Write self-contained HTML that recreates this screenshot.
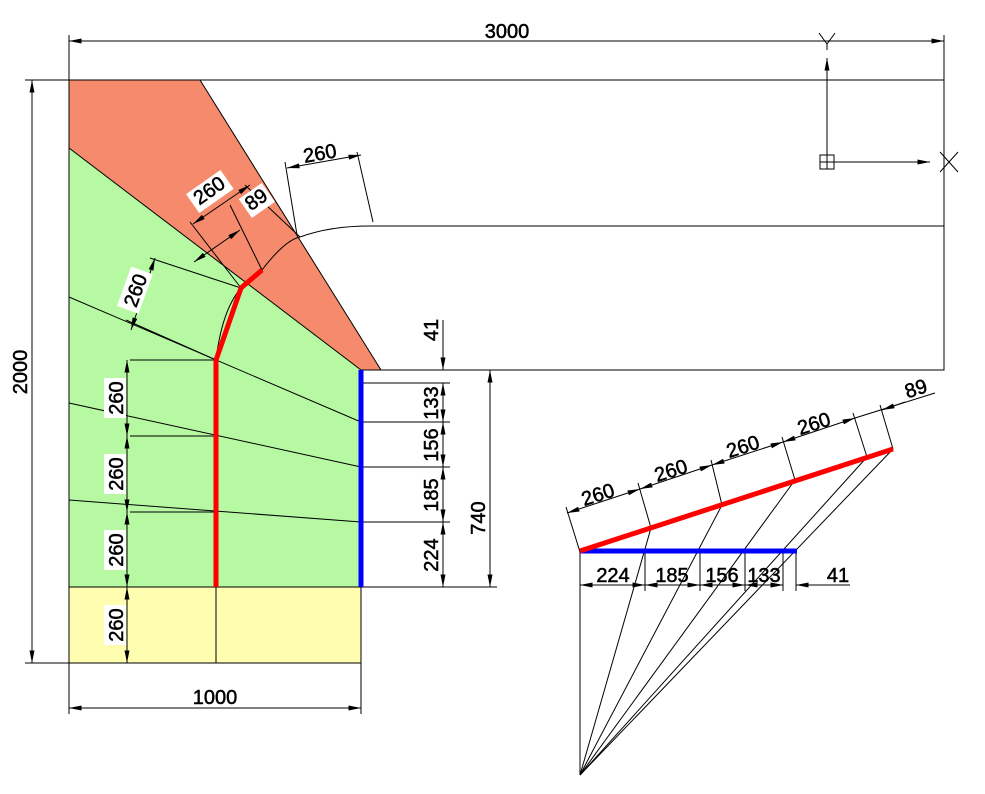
<!DOCTYPE html>
<html><head><meta charset="utf-8"><style>
html,body{margin:0;padding:0;background:#fff}
svg{display:block}
text{font-family:"Liberation Sans",sans-serif;font-size:20px;fill:#000;stroke:#000;stroke-width:0.5}
</style></head><body>
<svg width="985" height="794" viewBox="0 0 985 794" xmlns="http://www.w3.org/2000/svg">
<defs>
<marker id="a" viewBox="0 0 10 4" refX="10" refY="2" markerWidth="14" markerHeight="5" orient="auto-start-reverse" markerUnits="userSpaceOnUse"><path d="M0,0L10,2L0,4z" fill="#000"/></marker>
</defs>
<polygon points="69,80 200,80 381,370 361,370 69,148" fill="#f58b6c"/>
<polygon points="69,148 361,370 361,587 69,587" fill="#b6f9a2"/>
<rect x="69" y="587" width="292" height="76" fill="#fefdb0"/>
<g stroke="#000" stroke-width="1" fill="none">
<polyline points="69,80 944,80 944,370 361,370"/>
<polyline points="69,80 69,663 361,663 361,370"/>
<line x1="69" y1="587" x2="361" y2="587"/>
<line x1="200" y1="80" x2="381" y2="370"/>
<line x1="69" y1="148" x2="361" y2="370"/>
<line x1="216" y1="587" x2="216" y2="663"/>
<line x1="370" y1="226" x2="944" y2="226"/>
<path d="M300,237 Q330,226 370,226"/>
<path d="M262,270 Q285,240 300,237"/>
<path d="M216,360 Q222,310 241,288"/>
<line x1="69" y1="297" x2="361" y2="422"/>
<line x1="69" y1="403" x2="361" y2="467"/>
<line x1="69" y1="500" x2="361" y2="522"/>
<line x1="126" y1="320" x2="216" y2="360"/>
<line x1="150" y1="258" x2="241" y2="288"/>
<line x1="130" y1="360" x2="216" y2="360"/>
<line x1="130" y1="436" x2="216" y2="436"/>
<line x1="130" y1="512" x2="216" y2="512"/>
<line x1="69" y1="35" x2="69" y2="80"/><line x1="944" y1="35" x2="944" y2="80"/>
<line x1="69" y1="41" x2="944" y2="41" marker-start="url(#a)" marker-end="url(#a)"/>
<line x1="25" y1="80" x2="69" y2="80"/><line x1="25" y1="663" x2="69" y2="663"/>
<line x1="32" y1="80" x2="32" y2="663" marker-start="url(#a)" marker-end="url(#a)"/>
<line x1="69" y1="663" x2="69" y2="714"/><line x1="361" y1="663" x2="361" y2="714"/>
<line x1="69" y1="708" x2="361" y2="708" marker-start="url(#a)" marker-end="url(#a)"/>
<line x1="127" y1="360" x2="127" y2="436" marker-start="url(#a)" marker-end="url(#a)"/>
<line x1="127" y1="436" x2="127" y2="512" marker-start="url(#a)" marker-end="url(#a)"/>
<line x1="127" y1="512" x2="127" y2="587" marker-start="url(#a)" marker-end="url(#a)"/>
<line x1="127" y1="587" x2="127" y2="663" marker-start="url(#a)" marker-end="url(#a)"/>
<line x1="155" y1="258" x2="131" y2="330" marker-start="url(#a)" marker-end="url(#a)"/>
<line x1="361" y1="383" x2="450" y2="383"/>
<line x1="361" y1="422" x2="450" y2="422"/>
<line x1="361" y1="467" x2="450" y2="467"/>
<line x1="361" y1="522" x2="450" y2="522"/>
<line x1="361" y1="587" x2="497" y2="587"/>
<line x1="361" y1="370" x2="497" y2="370"/>
<line x1="443" y1="320" x2="443" y2="370" marker-end="url(#a)"/>
<line x1="443" y1="383" x2="443" y2="587"/>
<line x1="443" y1="383" x2="443" y2="422" marker-start="url(#a)" marker-end="url(#a)"/>
<line x1="443" y1="422" x2="443" y2="467" marker-start="url(#a)" marker-end="url(#a)"/>
<line x1="443" y1="467" x2="443" y2="522" marker-start="url(#a)" marker-end="url(#a)"/>
<line x1="443" y1="522" x2="443" y2="587" marker-start="url(#a)" marker-end="url(#a)"/>
<line x1="490" y1="370" x2="490" y2="587" marker-start="url(#a)" marker-end="url(#a)"/>
<line x1="190" y1="222" x2="241" y2="288"/>
<line x1="230" y1="205" x2="262" y2="270"/>
<line x1="245" y1="185" x2="300" y2="237"/>
<line x1="193" y1="224" x2="250" y2="185" marker-start="url(#a)" marker-end="url(#a)"/>
<line x1="194" y1="262" x2="240" y2="230" marker-start="url(#a)" marker-end="url(#a)"/>
<line x1="285" y1="162" x2="297" y2="235"/>
<line x1="357" y1="152" x2="373" y2="222"/>
<line x1="287" y1="168" x2="361" y2="155" marker-start="url(#a)" marker-end="url(#a)"/>
<line x1="827" y1="58" x2="827" y2="162" marker-start="url(#a)"/>
<line x1="827" y1="162" x2="930" y2="162" marker-end="url(#a)"/>
<rect x="820" y="155" width="14" height="14"/>
<line x1="827" y1="155" x2="827" y2="169"/><line x1="820" y1="162" x2="834" y2="162"/>
<path d="M819,33 L827,44 L835,33 M827,44 L827,50"/>
<path d="M940,152 L958,172 M958,152 L940,172"/>
<line x1="580" y1="552" x2="580" y2="775"/>
<line x1="580" y1="775" x2="651" y2="528"/>
<line x1="580" y1="775" x2="722" y2="505"/>
<line x1="580" y1="775" x2="795" y2="480"/>
<line x1="580" y1="775" x2="867" y2="457"/>
<line x1="580" y1="775" x2="893" y2="449"/>
<line x1="645" y1="551" x2="645" y2="591"/>
<line x1="700" y1="551" x2="700" y2="591"/>
<line x1="745" y1="551" x2="745" y2="591"/>
<line x1="783" y1="551" x2="783" y2="591"/>
<line x1="796" y1="551" x2="796" y2="591"/>
<line x1="580" y1="585" x2="645" y2="585" marker-start="url(#a)" marker-end="url(#a)"/>
<line x1="645" y1="585" x2="700" y2="585" marker-start="url(#a)" marker-end="url(#a)"/>
<line x1="700" y1="585" x2="745" y2="585" marker-start="url(#a)" marker-end="url(#a)"/>
<line x1="745" y1="585" x2="783" y2="585" marker-start="url(#a)" marker-end="url(#a)"/>
<line x1="796" y1="585" x2="850" y2="585"/>
<line x1="770" y1="585" x2="783" y2="585" marker-end="url(#a)"/>
<line x1="820" y1="585" x2="796" y2="585" marker-end="url(#a)"/>
<line x1="566" y1="507" x2="580" y2="552"/>
<line x1="638" y1="483" x2="651" y2="528"/>
<line x1="711" y1="460" x2="722" y2="505"/>
<line x1="782" y1="437" x2="795" y2="480"/>
<line x1="853" y1="413" x2="867" y2="457"/>
<line x1="880" y1="405" x2="893" y2="449"/>
<line x1="567" y1="513" x2="640" y2="489" marker-start="url(#a)" marker-end="url(#a)"/>
<line x1="640" y1="489" x2="712" y2="465" marker-start="url(#a)" marker-end="url(#a)"/>
<line x1="712" y1="465" x2="783" y2="442" marker-start="url(#a)" marker-end="url(#a)"/>
<line x1="783" y1="442" x2="855" y2="418" marker-start="url(#a)" marker-end="url(#a)"/>
<line x1="855" y1="418" x2="935" y2="393"/>
<line x1="905" y1="402" x2="882" y2="410" marker-end="url(#a)"/>
</g>
<polyline points="216,587 216,360 241,288 262,270" fill="none" stroke="#f00" stroke-width="5"/>
<line x1="361" y1="370" x2="361" y2="587" stroke="#00f" stroke-width="5"/>
<line x1="580" y1="551" x2="797" y2="551" stroke="#00f" stroke-width="5"/>
<line x1="580" y1="551" x2="893" y2="449" stroke="#f00" stroke-width="5"/>
<text x="507" y="38" text-anchor="middle">3000</text>
<text x="215" y="704" text-anchor="middle">1000</text>
<text transform="translate(27,372) rotate(-90)" text-anchor="middle">2000</text>
<rect x="104" y="378" width="22" height="40" fill="#fff"/>
<rect x="104" y="454" width="22" height="40" fill="#fff"/>
<rect x="104" y="530" width="22" height="40" fill="#fff"/>
<rect x="104" y="605" width="22" height="40" fill="#fff"/>
<text transform="translate(123,398) rotate(-90)" text-anchor="middle">260</text>
<text transform="translate(123,474) rotate(-90)" text-anchor="middle">260</text>
<text transform="translate(123,550) rotate(-90)" text-anchor="middle">260</text>
<text transform="translate(123,625) rotate(-90)" text-anchor="middle">260</text>
<g transform="translate(140,292) rotate(-70)"><rect x="-21" y="-17" width="42" height="23" fill="#fff"/><text x="0" y="2" text-anchor="middle">260</text></g>
<g transform="translate(213,196) rotate(-35)"><rect x="-21" y="-17" width="42" height="23" fill="#fff"/><text text-anchor="middle">260</text></g>
<g transform="translate(260,205) rotate(-35)"><rect x="-14" y="-17" width="28" height="23" fill="#fff"/><text text-anchor="middle">89</text></g>
<text x="321" y="160" text-anchor="middle" transform="rotate(-10 321 160)">260</text>
<text transform="translate(438,330) rotate(-90)" text-anchor="middle">41</text>
<text transform="translate(438,403) rotate(-90)" text-anchor="middle">133</text>
<text transform="translate(438,445) rotate(-90)" text-anchor="middle">156</text>
<text transform="translate(438,495) rotate(-90)" text-anchor="middle">185</text>
<text transform="translate(438,555) rotate(-90)" text-anchor="middle">224</text>
<text transform="translate(485,518) rotate(-90)" text-anchor="middle">740</text>
<text x="613" y="582" text-anchor="middle">224</text>
<text x="672" y="582" text-anchor="middle">185</text>
<text x="722" y="582" text-anchor="middle">156</text>
<text x="764" y="582" text-anchor="middle">133</text>
<text x="838" y="582" text-anchor="middle">41</text>
<text transform="translate(600,501) rotate(-18)" text-anchor="middle">260</text>
<text transform="translate(673,477) rotate(-18)" text-anchor="middle">260</text>
<text transform="translate(745,453) rotate(-18)" text-anchor="middle">260</text>
<text transform="translate(816,430) rotate(-18)" text-anchor="middle">260</text>
<text transform="translate(918,395) rotate(-18)" text-anchor="middle">89</text>
</svg>
</body></html>
